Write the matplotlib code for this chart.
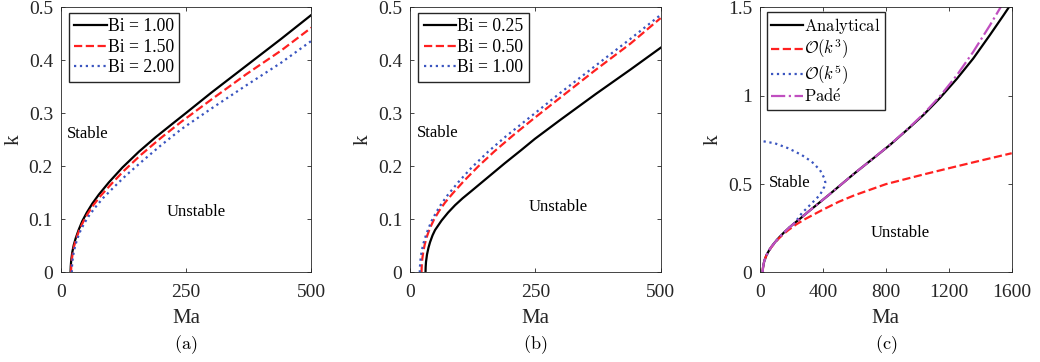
import matplotlib
matplotlib.use('Agg')
import matplotlib.pyplot as plt

plt.rcParams['font.family'] = ['Liberation Serif', 'DejaVu Serif']
plt.rcParams['mathtext.fontset'] = 'cm'

# ---- panel (a): Bi = 1.00, 1.50, 2.00 ----
ma_bi100 = [19.5, 20, 21, 23, 26, 30, 36, 43, 52, 63, 76, 96, 123, 156, 189, 222, 250, 300, 370, 440, 500]
k_bi100 = [0, 0.012, 0.024, 0.038, 0.052, 0.065, 0.081, 0.097, 0.113, 0.130, 0.147, 0.170, 0.198, 0.228,
           0.255, 0.280, 0.301, 0.339, 0.390, 0.441, 0.486]

ma_bi150 = [20.5, 21, 22, 24, 27, 31, 37, 45, 54, 65, 80, 100, 125, 160, 200, 240, 300, 370, 440, 500]
k_bi150 = [0, 0.012, 0.024, 0.037, 0.051, 0.064, 0.080, 0.096, 0.111, 0.127, 0.145, 0.166, 0.191, 0.222,
           0.254, 0.284, 0.326, 0.374, 0.419, 0.462]

ma_bi200 = [22, 22.5, 23.5, 25.5, 28.5, 32.5, 38.5, 47, 57, 69, 84, 105, 130, 165, 200, 240, 300, 370, 440, 500]
k_bi200 = [0, 0.012, 0.023, 0.036, 0.049, 0.062, 0.077, 0.093, 0.108, 0.123, 0.140, 0.160, 0.183, 0.212,
           0.240, 0.270, 0.309, 0.353, 0.396, 0.437]

# ---- panel (b): Bi = 0.25, 0.50 (Bi = 1.00 reused) ----
ma_bi025 = [31, 31.3, 32, 34, 37, 40, 45, 50, 63, 76, 90, 105, 123, 156, 189, 222, 249, 300, 371, 440, 500]
k_bi025 = [0, 0.010, 0.020, 0.034, 0.047, 0.057, 0.070, 0.080, 0.098, 0.113, 0.127, 0.140, 0.154, 0.180,
           0.206, 0.231, 0.252, 0.288, 0.337, 0.383, 0.424]

ma_bi050 = [23, 23.5, 24.5, 26.5, 29.5, 33.5, 39.5, 48, 58, 70, 86, 108, 136, 169, 206, 245, 300, 370, 440, 500]
k_bi050 = [0, 0.013, 0.025, 0.039, 0.053, 0.067, 0.083, 0.100, 0.116, 0.132, 0.150, 0.173, 0.200, 0.229,
           0.259, 0.289, 0.330, 0.382, 0.432, 0.480]

# ---- panel (c): analytical curve and its approximations ----
ma_exact = [17, 17.5, 18.5, 20.5, 23.5, 27.5, 33.5, 40.5, 50, 61, 74, 94, 121, 154, 187, 220, 250, 300, 370,
            440, 509, 610, 720, 826, 933, 1038, 1144, 1250, 1356, 1462, 1547, 1590]
k_exact = [0, 0.012, 0.024, 0.038, 0.052, 0.065, 0.081, 0.097, 0.113, 0.130, 0.147, 0.170, 0.198, 0.228,
           0.255, 0.280, 0.301, 0.339, 0.390, 0.441, 0.493, 0.568, 0.646, 0.722, 0.806, 0.891, 0.988, 1.095,
           1.212, 1.345, 1.455, 1.512]

ma_o3 = [17, 17.5, 18.5, 20.5, 23.5, 27.5, 33.5, 40.5, 50, 61, 74, 94, 121, 150, 180, 230, 286, 392, 500,
         600, 800, 1040, 1200, 1400, 1600]
k_o3 = [0, 0.012, 0.024, 0.038, 0.052, 0.065, 0.081, 0.097, 0.113, 0.129, 0.146, 0.168, 0.194, 0.218,
        0.240, 0.272, 0.302, 0.352, 0.400, 0.437, 0.500, 0.555, 0.590, 0.633, 0.675]

ma_o5 = [17, 17.5, 18.5, 20.5, 23.5, 27.5, 33.5, 40.5, 50, 61, 74, 94, 121, 154, 187, 220, 265, 329, 381,
         409, 415, 409, 381, 329, 265, 180, 95, 0]
k_o5 = [0, 0.012, 0.024, 0.038, 0.052, 0.065, 0.081, 0.097, 0.113, 0.130, 0.147, 0.170, 0.198, 0.228,
        0.255, 0.280, 0.335, 0.392, 0.439, 0.486, 0.510, 0.533, 0.580, 0.627, 0.665, 0.703, 0.731, 0.746]

ma_pade = [17, 17.5, 18.5, 20.5, 23.5, 27.5, 33.5, 40.5, 50, 61, 74, 94, 121, 154, 187, 220, 250, 300, 370,
           440, 509, 610, 720, 826, 933, 1038, 1144, 1250, 1356, 1462, 1545]
k_pade = [0, 0.012, 0.024, 0.038, 0.052, 0.065, 0.081, 0.097, 0.113, 0.130, 0.147, 0.170, 0.198, 0.228,
          0.255, 0.280, 0.301, 0.339, 0.390, 0.441, 0.493, 0.568, 0.646, 0.723, 0.808, 0.896, 0.998, 1.115,
          1.250, 1.400, 1.525]

labels_a = ['Bi = 1.00', 'Bi = 1.50', 'Bi = 2.00']
labels_b = ['Bi = 0.25', 'Bi = 0.50', 'Bi = 1.00']
labels_c = [r'$\mathrm{Analytical}$', r'$\mathcal{O}(k^3)$', r'$\mathcal{O}(k^5)$', r'$\mathrm{Pad\acute{e}}$']

black = 'black'
red = '#ff2020'
blue = '#3a55c0'
purple = '#c04fc0'
gray = '#262626'

fig = plt.figure(figsize=(10.4, 3.62), dpi=100)
ax_a = fig.add_axes([0.0584, 0.2473, 0.241, 0.732])
ax_b = fig.add_axes([0.3942, 0.2473, 0.241, 0.732])
ax_c = fig.add_axes([0.7308, 0.2473, 0.242, 0.732])

ax_a.plot(ma_bi100, k_bi100, '-', color=black, lw=1.6, label=labels_a[0])
ax_a.plot(ma_bi150, k_bi150, '--', color=red, lw=1.6, label=labels_a[1])
ax_a.plot(ma_bi200, k_bi200, ':', color=blue, lw=1.6, label=labels_a[2])

ax_b.plot(ma_bi025, k_bi025, '-', color=black, lw=1.6, label=labels_b[0])
ax_b.plot(ma_bi050, k_bi050, '--', color=red, lw=1.6, label=labels_b[1])
ax_b.plot(ma_bi100, k_bi100, ':', color=blue, lw=1.6, label=labels_b[2])

ax_c.plot(ma_exact, k_exact, '-', color=black, lw=1.6, label=labels_c[0])
ax_c.plot(ma_o3, k_o3, '--', color=red, lw=1.6, label=labels_c[1])
ax_c.plot(ma_o5, k_o5, ':', color=blue, lw=1.6, label=labels_c[2])
ax_c.plot(ma_pade, k_pade, '-.', color=purple, lw=1.6, label=labels_c[3])

for ax in (ax_a, ax_b):
    ax.set_xlim(0, 500)
    ax.set_ylim(0, 0.5)
    ax.set_xticks([0, 250, 500])
    ax.set_yticks([0, 0.1, 0.2, 0.3, 0.4, 0.5])
    ax.set_yticklabels(['0', '0.1', '0.2', '0.3', '0.4', '0.5'])
    ax.legend(loc='upper left', bbox_to_anchor=(0.033, 0.979), borderaxespad=0,
              fancybox=False, edgecolor=gray, framealpha=1, fontsize=12.7,
              handlelength=1.85, handletextpad=0.05, labelspacing=0.2, borderpad=0.3)

ax_c.set_xlim(0, 1600)
ax_c.set_ylim(0, 1.5)
ax_c.set_xticks([0, 400, 800, 1200, 1600])
ax_c.set_yticks([0, 0.5, 1, 1.5])
ax_c.set_yticklabels(['0', '0.5', '1', '1.5'])
ax_c.legend(loc='upper left', bbox_to_anchor=(0.027, 0.983), borderaxespad=0,
            fancybox=False, edgecolor=gray, framealpha=1, fontsize=12,
            handlelength=1.9, handletextpad=0.1, labelspacing=0.1, borderpad=0.25)

ax_a.text(12.6, 0.261, 'Stable', fontsize=12, va='center', ha='left')
ax_a.text(212, 0.114, 'Unstable', fontsize=12, va='center', ha='left')
ax_b.text(13, 0.263, 'Stable', fontsize=12, va='center', ha='left')
ax_b.text(237, 0.124, 'Unstable', fontsize=12, va='center', ha='left')
ax_c.text(59, 0.506, 'Stable', fontsize=12, va='center', ha='left')
ax_c.text(700, 0.224, 'Unstable', fontsize=12, va='center', ha='left')

for ax, cap in zip((ax_a, ax_b, ax_c), ['(a)', '(b)', '(c)']):
    ax.tick_params(direction='in', top=True, right=True, length=3, width=0.6,
                   labelsize=14, colors=gray, labelcolor=gray)
    ax.tick_params(axis='x', pad=8)
    ax.tick_params(axis='y', pad=5.5)
    for sp in ax.spines.values():
        sp.set_color(gray)
        sp.set_linewidth(0.6)
    ax.set_xlabel('Ma', fontsize=15, color=gray, labelpad=6)
    ax.set_ylabel('k', fontsize=15, color=gray, labelpad=4)
    ax.text(0.5, -0.274, r'$\mathrm{' + cap + '}$', transform=ax.transAxes,
            ha='center', va='center', fontsize=13)

fig.savefig('out.png', dpi=100)
